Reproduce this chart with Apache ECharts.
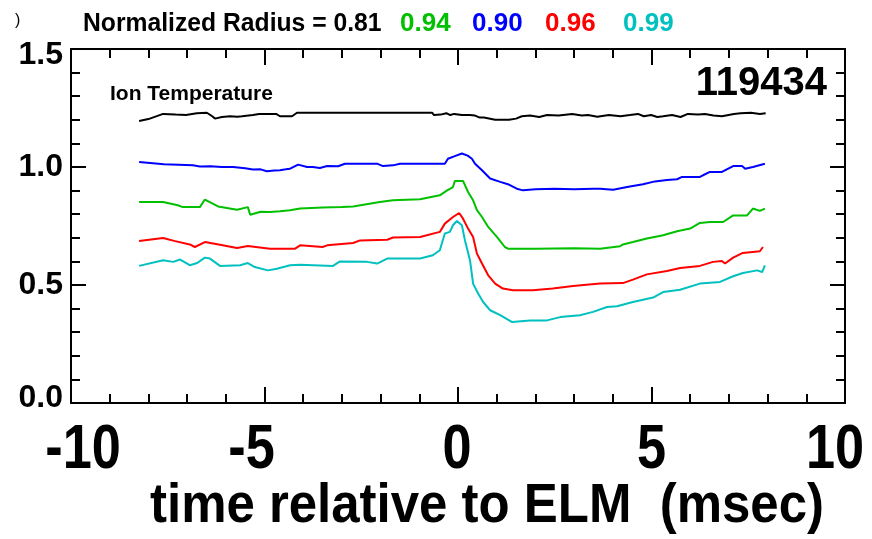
<!DOCTYPE html>
<html>
<head>
<meta charset="utf-8">
<script src="https://cdn.jsdelivr.net/npm/echarts@6/dist/echarts.min.js"></script>
<style>
html,body{margin:0;padding:0;background:#fff;}
#c{width:872px;height:539px;}
</style>
</head>
<body>
<div id="c"></div>
<script>
// ---- data (time in msec relative to ELM, Ti in keV) ----
const radiusLabels = ['0.81', '0.94', '0.90', '0.96', '0.99'];
const xTickLabels = [-10, -5, 0, 5, 10];
const yTickLabels = [0.0, 0.5, 1.0, 1.5];

const tR081 = [-8.24,-8.0,-7.62,-7.3,-7.03,-6.75,-6.49,-6.35,-6.28,-6.1,-5.89,-5.7,-5.58,-5.3,-5.14,-4.9,-4.70,-4.60,-4.29,-4.16,-3.0,-2.0,-0.67,-0.62,-0.45,-0.3,-0.2,-0.1,0.1,0.3,0.44,0.55,0.67,0.96,1.32,1.5,1.65,1.86,2.1,2.30,2.6,2.95,3.2,3.36,3.6,3.90,4.2,4.44,4.65,4.8,4.99,5.15,5.30,5.53,5.75,5.94,6.2,6.38,6.6,6.82,7.13,7.3,7.57,7.8,7.95];
const vR081 = [1.195,1.203,1.225,1.222,1.22,1.228,1.23,1.215,1.205,1.212,1.215,1.213,1.215,1.22,1.225,1.225,1.225,1.215,1.215,1.23,1.23,1.23,1.23,1.22,1.222,1.228,1.22,1.225,1.22,1.22,1.218,1.21,1.21,1.2,1.2,1.205,1.215,1.218,1.212,1.22,1.218,1.225,1.218,1.22,1.213,1.22,1.215,1.22,1.225,1.215,1.22,1.212,1.215,1.22,1.212,1.225,1.222,1.225,1.218,1.215,1.225,1.228,1.23,1.225,1.228];

const tR094 = [-8.24,-7.62,-7.24,-7.11,-6.67,-6.54,-6.20,-5.71,-5.43,-5.37,-5.1,-4.86,-4.6,-4.34,-4.08,-3.5,-3.0,-2.71,-2.02,-1.68,-0.98,-0.47,-0.28,-0.13,-0.08,0.13,0.26,0.39,0.49,0.62,0.78,1.01,1.21,1.29,2.0,3.0,3.67,4.19,4.26,4.52,4.88,5.30,5.66,6.00,6.25,6.51,6.85,7.11,7.47,7.62,7.80,7.93];
const vR094 = [0.852,0.852,0.838,0.83,0.83,0.862,0.833,0.819,0.83,0.798,0.81,0.809,0.812,0.817,0.824,0.828,0.83,0.833,0.852,0.859,0.863,0.88,0.901,0.915,0.941,0.941,0.894,0.859,0.817,0.788,0.746,0.703,0.661,0.654,0.654,0.656,0.654,0.664,0.672,0.682,0.697,0.711,0.728,0.739,0.763,0.767,0.767,0.795,0.795,0.824,0.814,0.824];

const tR090 = [-8.24,-7.6,-6.85,-6.67,-6.4,-6.1,-5.81,-5.5,-5.30,-5.1,-4.94,-4.75,-4.60,-4.45,-4.34,-4.13,-3.9,-3.75,-3.57,-3.38,-3.1,-2.92,-2.5,-2.09,-1.94,-1.68,-1.50,-0.98,-0.34,-0.26,-0.1,0.10,0.25,0.36,0.44,0.62,0.83,1.09,1.29,1.52,1.68,2.0,2.5,3.0,3.5,3.67,4.01,4.37,4.78,5.09,5.4,5.66,5.79,6.25,6.33,6.51,6.82,7.11,7.34,7.42,7.62,7.93];
const vR090 = [1.021,1.012,1.007,1.002,1.003,1.0,1.0,0.995,0.989,0.99,0.982,0.985,0.986,0.99,0.993,1.01,1.0,1.0,0.996,1.004,1.003,1.014,1.014,1.014,1.004,1.007,1.014,1.014,1.014,1.035,1.045,1.057,1.048,1.035,1.014,0.986,0.951,0.937,0.927,0.908,0.901,0.906,0.908,0.906,0.908,0.908,0.904,0.915,0.927,0.939,0.945,0.948,0.958,0.958,0.965,0.979,0.979,1.004,1.004,0.993,1.0,1.014];

const tR096 = [-8.24,-7.62,-7.31,-6.93,-6.80,-6.54,-6.15,-5.71,-5.43,-4.86,-4.21,-4.08,-3.5,-3.38,-2.71,-2.53,-1.83,-1.68,-0.98,-0.47,-0.34,-0.13,0.03,0.13,0.26,0.39,0.49,0.62,0.78,0.96,1.16,1.42,1.94,2.45,2.97,3.67,4.26,4.52,4.88,5.40,5.74,6.25,6.59,6.82,6.90,7.11,7.36,7.80,7.88];
const vR096 = [0.686,0.699,0.686,0.672,0.661,0.682,0.671,0.657,0.665,0.654,0.654,0.668,0.661,0.668,0.678,0.689,0.692,0.701,0.703,0.725,0.76,0.788,0.805,0.781,0.739,0.703,0.633,0.591,0.541,0.506,0.485,0.478,0.478,0.485,0.496,0.506,0.508,0.523,0.545,0.559,0.572,0.581,0.598,0.602,0.591,0.616,0.636,0.643,0.661];

const tR099 = [-8.24,-7.62,-7.36,-7.18,-6.93,-6.74,-6.54,-6.41,-6.15,-5.63,-5.43,-5.25,-4.91,-4.68,-4.34,-4.08,-3.23,-3.05,-2.35,-2.09,-1.83,-0.98,-0.65,-0.47,-0.34,-0.21,-0.13,-0.03,0.10,0.18,0.31,0.39,0.52,0.65,0.83,1.09,1.40,1.86,2.30,2.64,3.15,3.49,3.85,4.11,4.52,5.04,5.30,5.74,6.25,6.77,7.11,7.36,7.73,7.86,7.93];
const vR099 = [0.581,0.605,0.598,0.608,0.584,0.593,0.616,0.612,0.581,0.584,0.593,0.576,0.562,0.569,0.584,0.586,0.581,0.6,0.598,0.591,0.612,0.612,0.626,0.647,0.718,0.725,0.753,0.771,0.753,0.689,0.605,0.506,0.464,0.428,0.393,0.372,0.343,0.35,0.35,0.364,0.372,0.386,0.407,0.41,0.428,0.447,0.47,0.48,0.506,0.513,0.537,0.551,0.562,0.555,0.583];

const seriesColors = ['#000000', '#00c000', '#0000ff', '#ff0000', '#00c0c0'];
const seriesTimes = [tR081, tR094, tR090, tR096, tR099];
const seriesValues = [vR081, vR094, vR090, vR096, vR099];

// ---- chart ----
const sans = "'Liberation Sans',Arial,sans-serif";

function zip(t, v) {
  const n = Math.min(t.length, v.length);
  const out = [];
  for (let i = 0; i < n; i++) out.push([t[i], v[i]]);
  return out;
}

const axisLineStyle = { color: '#000', width: 2 };
function xAx(pos) {
  return {
    type: 'value', position: pos, min: -10, max: 10, interval: 5,
    axisLine: { show: true, onZero: false, lineStyle: axisLineStyle },
    axisTick: { show: true, inside: true, length: 16, lineStyle: { color: '#000', width: 2 } },
    minorTick: { show: true, splitNumber: 5, length: 9, lineStyle: { color: '#000', width: 2 } },
    splitLine: { show: false },
    axisLabel: { show: false }
  };
}
const yLabelStyle = { fontFamily: sans, fontWeight: 'bold', fontSize: 32, color: '#000' };
function yAx(pos, showLabel) {
  return {
    type: 'value', position: pos, min: 0, max: 1.5, interval: 0.5,
    axisLine: { show: true, onZero: false, lineStyle: axisLineStyle },
    axisTick: { show: true, inside: true, length: 15, lineStyle: { color: '#000', width: 2 } },
    minorTick: { show: true, splitNumber: 5, length: 9, lineStyle: { color: '#000', width: 2 } },
    splitLine: { show: false },
    axisLabel: showLabel ? Object.assign({
      show: true, margin: 8,
      formatter: v => {
        const s = v.toFixed(1);
        if (v >= 1.5) return '{hi|' + s + '}';
        if (v <= 0) return '{lo|' + s + '}';
        return s;
      },
      rich: {
        hi: Object.assign({ padding: [12, 0, 0, 0] }, yLabelStyle),
        lo: Object.assign({ padding: [0, 0, 10, 0] }, yLabelStyle)
      }
    }, yLabelStyle) : { show: false }
  };
}

const chart = echarts.init(document.getElementById('c'), null, { renderer: 'canvas' });
chart.setOption({
  backgroundColor: '#fff',
  animation: false,
  grid: { left: 71, right: 27, top: 49, bottom: 136, containLabel: false, outerBoundsMode: 'none' },
  xAxis: [xAx('bottom'), xAx('top')],
  yAxis: [yAx('left', true), yAx('right', false)],
  series: seriesTimes.map((t, i) => ({
    type: 'line', name: radiusLabels[i], xAxisIndex: 0, yAxisIndex: 0,
    data: zip(t, seriesValues[i]), showSymbol: false, symbol: 'none',
    lineStyle: { color: seriesColors[i], width: 2 }, smooth: false
  }))
});

// ---- texts (condensed bold lettering as in the original plot) ----
const headerX = [83, 400, 472, 545, 623];
const xLabelShift = [12, -13, -1, 0, -10];
const graphics = [
  { type: 'text', x: 15, y: 13, style: { text: ')', font: '16px ' + sans, fill: '#000' } },
  { type: 'text', x: 110, y: 84, style: { text: 'Ion Temperature', font: 'bold 21px ' + sans, fill: '#000' } },
  { type: 'text', x: 827, y: 64, style: { text: '119434', font: 'bold 40px ' + sans, fill: '#000', align: 'right' } }
];
radiusLabels.forEach((lab, i) => {
  graphics.push({
    type: 'text', x: headerX[i], y: 11, scaleX: i === 0 ? 0.95 : 1,
    style: { text: i === 0 ? 'Normalized Radius = ' + lab : lab, font: 'bold 26px ' + sans, fill: seriesColors[i] }
  });
});
xTickLabels.forEach((v, i) => {
  const px = chart.convertToPixel({ xAxisIndex: 0 }, v);
  graphics.push({
    type: 'text', x: px + xLabelShift[i], y: 419, scaleX: 0.83,
    style: { text: String(v), font: 'bold 63px ' + sans, fill: '#000', align: 'center', verticalAlign: 'top' }
  });
});
graphics.push({
  type: 'text', x: 487, y: 479, scaleX: 0.91,
  style: { text: 'time relative to ELM  (msec)', font: 'bold 56px ' + sans, fill: '#000', align: 'center', verticalAlign: 'top' }
});
chart.setOption({ graphic: graphics });
</script>
</body>
</html>
